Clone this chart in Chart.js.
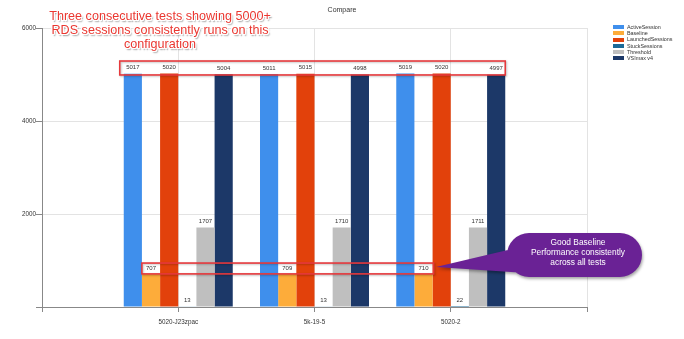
<!DOCTYPE html>
<html>
<head>
<meta charset="utf-8">
<script src="https://cdn.jsdelivr.net/npm/chart.js@4.4.1/dist/chart.umd.min.js"></script>
<style>
  html, body { margin: 0; padding: 0; background: #fff; }
  #wrap { position: relative; width: 684px; height: 339px; overflow: hidden; font-family: "Liberation Sans", Arial, sans-serif; }
  canvas { position: absolute; left: 0; top: 0; }
  #title { position: absolute; left: 0; width: 684px; top: 6px; text-align: center; font-size: 7px; color: #333; }
  #legend { position: absolute; left: 613px; top: 24px; font-size: 5.4px; color: #333; line-height: 6.2px; }
  #legend .it { display: flex; align-items: center; white-space: nowrap; }
  #legend .sw { width: 11px; height: 4px; margin-right: 3px; }
  #note1 { position: absolute; left: 40px; width: 240px; top: 10px; text-align: center; font-size: 12.6px; line-height: 13.8px; color: #ea3730;
    text-shadow: -1px -1px 0 #fff, 1px -1px 0 #fff, -1px 1px 0 #fff, 1px 1px 0 #fff, 0 1px 0 #fff, 0 -1px 0 #fff, 1px 0 0 #fff, -1px 0 0 #fff, 1.5px 2px 1.5px rgba(0,0,0,0.45); }
  #note2 { position: absolute; left: 513px; width: 130px; top: 237px; text-align: center; font-size: 8.4px; line-height: 10px; color: #fff; }
</style>
</head>
<body>
<div id="wrap">
  <canvas id="c" width="684" height="339"></canvas>
  <div id="title">Compare</div>
  <div id="legend"></div>
  <div id="note1">Three consecutive tests showing 5000+<br>RDS sessions consistently runs on this<br>configuration</div>
  <div id="note2">Good Baseline<br>Performance consistently<br>across all tests</div>
</div>
<script>
const categories = ['5020-J23zpac', '5k-19-5', '5020-2'];
const seriesNames = ['ActiveSession', 'Baseline', 'LaunchedSessions', 'StuckSessions', 'Threshold', 'VSImax v4'];
const activeSession = [5017, 5011, 5019];
const baseline = [707, 709, 710];
const launchedSessions = [5020, 5015, 5020];
const stuckSessions = [13, 13, 22];
const threshold = [1707, 1710, 1711];
const vsimaxV4 = [5004, 4998, 4997];
const yTickValues = [0, 2000, 4000, 6000];

const seriesColors = ['#3f8fec', '#fdac3a', '#e2410b', '#1b6a98', '#bfbfbf', '#1c3868'];
const seriesValues = [activeSession, baseline, launchedSessions, stuckSessions, threshold, vsimaxV4];

const labels = [''].concat(categories, ['']);
const pad = arr => [null].concat(arr, [null]);

const datasets = seriesNames.map((n, i) => ({
  label: n,
  data: pad(seriesValues[i]),
  backgroundColor: seriesColors[i],
  borderWidth: 0,
  barPercentage: 1,
  categoryPercentage: 0.8
}));

// legend
const lg = document.getElementById('legend');
seriesNames.forEach((n, i) => {
  const d = document.createElement('div');
  d.className = 'it';
  d.innerHTML = '<span class="sw" style="background:' + seriesColors[i] + '"></span><span>' + n + '</span>';
  lg.appendChild(d);
});

const valueLabels = {
  id: 'valueLabels',
  afterDatasetsDraw(chart) {
    const ctx = chart.ctx;
    ctx.save();
    ctx.font = '6px "Liberation Sans", Arial, sans-serif';
    ctx.fillStyle = '#333';
    ctx.textAlign = 'center';
    ctx.textBaseline = 'middle';
    chart.data.datasets.forEach((ds, di) => {
      const meta = chart.getDatasetMeta(di);
      meta.data.forEach((el, i) => {
        const v = ds.data[i];
        if (v === null || v === undefined) return;
        ctx.fillText(String(v), el.x, el.y - 6);
      });
    });
    ctx.restore();
  }
};

const annotations = {
  id: 'annotations',
  afterDraw(chart) {
    const ctx = chart.ctx;
    const y = chart.scales.y;
    const m0 = chart.getDatasetMeta(0), m1 = chart.getDatasetMeta(1), m5 = chart.getDatasetMeta(5);
    ctx.save();
    // red box around top labels
    const b1 = m0.data[1], b6 = m5.data[3];
    const x1 = b1.x - b1.width / 2 - 4, x2 = b6.x + b6.width / 2;
    const y1 = y.getPixelForValue(5290), y2 = y.getPixelForValue(4990);
    ctx.shadowColor = 'rgba(0,0,0,0.25)';
    ctx.shadowBlur = 2; ctx.shadowOffsetX = 1; ctx.shadowOffsetY = 1;
    ctx.strokeStyle = '#e6393c';
    ctx.lineWidth = 1.6;
    ctx.strokeRect(x1, y1, x2 - x1, y2 - y1);
    // red box around baseline labels
    const o1 = m1.data[1], o3 = m1.data[3];
    const bx1 = o1.x - o1.width / 2, bx2 = o3.x + o3.width / 2 + 1;
    const by1 = y.getPixelForValue(945), by2 = y.getPixelForValue(712);
    ctx.strokeRect(bx1, by1, bx2 - bx1, by2 - by1);
    // purple callout (pill + pointer in one path)
    ctx.shadowColor = 'rgba(0,0,0,0.35)';
    ctx.shadowBlur = 3; ctx.shadowOffsetX = 1; ctx.shadowOffsetY = 2;
    ctx.fillStyle = '#6a2295';
    const L = 507, R = 642, T = 233, B = 277, r = 22;
    ctx.beginPath();
    ctx.moveTo(L + r, T);
    ctx.lineTo(R - r, T);
    ctx.arc(R - r, T + r, r, -Math.PI / 2, Math.PI / 2);
    ctx.lineTo(L + r, B);
    ctx.arc(L + r, T + r, r, Math.PI / 2, Math.PI * 1.5);
    ctx.closePath();
    ctx.moveTo(436, 267);
    ctx.lineTo(512, 249);
    ctx.lineTo(526, 273);
    ctx.closePath();
    ctx.fill('nonzero');
    ctx.restore();
  }
};

new Chart(document.getElementById('c'), {
  type: 'bar',
  data: { labels, datasets },
  options: {
    responsive: false,
    animation: false,
    layout: { padding: { top: 28, right: 97, left: 0, bottom: 0 } },
    plugins: {
      legend: { display: false },
      title: { display: false },
      tooltip: { enabled: false }
    },
    scales: {
      x: {
        type: 'category',
        offset: false,
        grid: { color: '#e3e3e3', tickColor: '#888', tickLength: 5, offset: false },
        border: { color: '#888' },
        ticks: { autoSkip: false, maxRotation: 0, color: '#333', font: { size: 6.3, family: '"Liberation Sans", Arial, sans-serif' }, padding: 6 },
        afterFit(s) { s.height = 32; }
      },
      y: {
        min: 0,
        max: 6000,
        afterBuildTicks(s) { s.ticks = yTickValues.map(v => ({ value: v })); },
        grid: { color: '#e3e3e3', tickColor: '#888', tickLength: 6 },
        border: { color: '#888' },
        ticks: {
          color: '#333',
          font: { size: 6.3, family: '"Liberation Sans", Arial, sans-serif' },
          padding: 0,
          callback: v => (v === 0 ? '' : String(v))
        },
        afterFit(s) { s.width = 42; }
      }
    }
  },
  plugins: [valueLabels, annotations]
});
</script>
</body>
</html>
